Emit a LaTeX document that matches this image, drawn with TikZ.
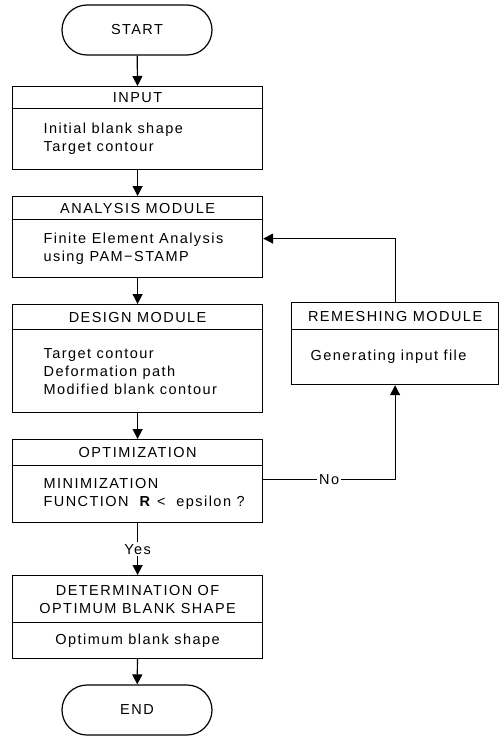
\documentclass[tikz,border=0pt]{standalone}
\usepackage{fontspec}
\setmainfont{Liberation Sans}[LetterSpace=10]
\usepackage{tikz}
\usetikzlibrary{arrows.meta, positioning, calc}

\begin{document}
\begin{tikzpicture}[
    x=1pt, y=-1pt,
    font=\fontsize{14.5}{18}\selectfont,
    every path/.style={line width=1.2pt},
    terminal/.style={draw, rounded corners=25pt, minimum width=150pt, minimum height=50pt},
    head/.style={draw, anchor=north west, minimum width=250pt, align=center, inner sep=0pt},
    body/.style={draw, anchor=north west, minimum width=250pt, inner sep=0pt},
    txt/.style={anchor=west, align=left, inner sep=0pt},
    arr/.style={-{Triangle[length=10pt, width=10pt]}},
]
    \useasboundingbox (0,0) rectangle (502,738);

    \node[terminal] (start) at (137, 30) {START};

    \node[head, minimum height=22pt] (inputHead) at (12, 86) {INPUT};
    \node[body, minimum height=61pt] (inputBody) at (12, 108) {};
    \node[txt] (inputText) at ([xshift=31pt]inputBody.west) {Initial blank shape\\Target contour};

    \node[head, minimum height=23pt] (anaHead) at (12, 196) {ANALYSIS MODULE};
    \node[body, minimum height=58pt] (anaBody) at (12, 219) {};
    \node[txt] (anaText) at ([xshift=31pt]anaBody.west) {Finite Element Analysis\\using PAM−STAMP};

    \node[head, minimum height=25pt] (desHead) at (12, 304) {DESIGN MODULE};
    \node[body, minimum height=83pt] (desBody) at (12, 329) {};
    \node[txt] (desText) at ([xshift=31pt]desBody.west) {Target contour\\Deformation path\\Modified blank contour};

    % Remeshing
    \node[head, minimum width=207pt, minimum height=27pt] (remHead) at (291, 302) {REMESHING MODULE};
    \node[body, minimum width=207pt, minimum height=55pt] (remBody) at (291, 329) {};
    \node[txt] (remText) at ([xshift=19pt]remBody.west) {Generating input file};

    \node[head, minimum height=26pt] (optHead) at (12, 439) {OPTIMIZATION};
    \node[body, minimum height=57pt] (optBody) at (12, 465) {};
    \node[txt] (optText) at ([xshift=31pt]optBody.west) {MINIMIZATION\\FUNCTION\ \ \textbf{R}\ <\ \ epsilon ?};

    \node[head, minimum height=47pt] (detHead) at (12, 575) {DETERMINATION OF\\OPTIMUM BLANK SHAPE};
    \node[body, minimum height=36pt, align=center] (detBody) at (12, 622) {Optimum blank shape};

    \node[terminal] (end) at (137, 710) {END};

    \draw[arr] (start) -- (inputHead);
    \draw[arr] (inputBody) -- (anaHead);
    \draw[arr] (anaBody) -- (desHead);
    \draw[arr] (desBody) -- (optHead);
    \draw[arr] (optBody) -- node[fill=white, inner sep=2pt] (yes) {Yes} (detHead);
    \draw[arr] (detBody) -- (end);

    % Schleife
    \draw[arr] ([yshift=15pt]optBody.east) -| node[pos=0.25, fill=white, inner sep=2pt] (no) {No} (remBody.south);
    \draw[arr] (remHead.north) |- ([yshift=10pt]anaBody.east);
\end{tikzpicture}
\end{document}
